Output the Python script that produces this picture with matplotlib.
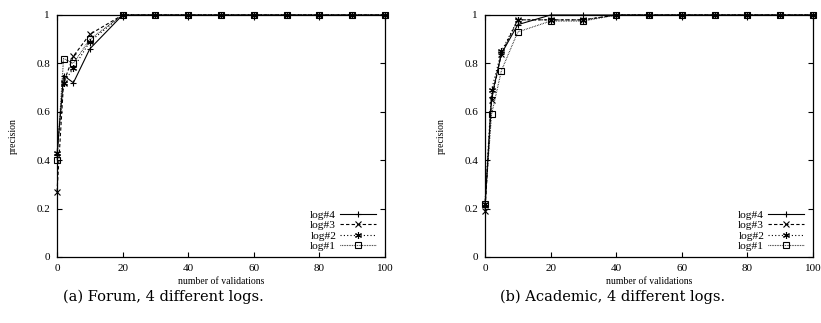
import matplotlib.pyplot as plt
from matplotlib.ticker import FuncFormatter

# data
x_vals = [0, 2, 5, 10, 20, 30, 40, 50, 60, 70, 80, 90, 100]
tail = [1.0] * 8

forum_log4 = [0.42, 0.75, 0.72, 0.86, 1.0] + tail
forum_log3 = [0.27, 0.72, 0.83, 0.92, 1.0] + tail
forum_log2 = [0.43, 0.72, 0.78, 0.89, 1.0] + tail
forum_log1 = [0.40, 0.82, 0.80, 0.90, 1.0] + tail

acad_log4 = [0.21, 0.66, 0.84, 0.96, 1.0, 1.0, 1.0] + tail[:6]
acad_log3 = [0.19, 0.65, 0.84, 0.98, 0.98, 0.98, 1.0] + tail[:6]
acad_log2 = [0.22, 0.69, 0.85, 0.98, 0.98, 0.98, 1.0] + tail[:6]
acad_log1 = [0.22, 0.59, 0.77, 0.93, 0.975, 0.975, 1.0] + tail[:6]

labels = ['log#4', 'log#3', 'log#2', 'log#1']
captions = ['(a) Forum, 4 different logs.', '(b) Academic, 4 different logs.']

serif = ['Liberation Serif', 'DejaVu Serif']
asterisk = (6, 2, 0)
styles = [
    dict(ls='-', marker='+', ms=5),
    dict(ls=(0, (3, 2)), marker='x', ms=4),
    dict(ls=(0, (1, 2)), marker=asterisk, ms=5),
    dict(ls=(0, (0.6, 0.9)), marker='s', ms=4, mfc='none'),
]

fig = plt.figure(figsize=(8.21, 3.23), dpi=100)
W, H = 821.0, 323.0
ax1 = fig.add_axes([57 / W, 1 - 257 / H, 328 / W, 242 / H])
ax2 = fig.add_axes([485 / W, 1 - 257 / H, 328 / W, 242 / H])

panels = [
    (ax1, [forum_log4, forum_log3, forum_log2, forum_log1]),
    (ax2, [acad_log4, acad_log3, acad_log2, acad_log1]),
]

def fmt(v, pos):
    return '%g' % round(v, 1)

for ax, series in panels:
    for ys, lab, st in zip(series, labels, styles):
        ax.plot(x_vals, ys, color='black', lw=0.8, mew=0.8, label=lab,
                clip_on=False, **st)
    ax.set_xlim(0, 100)
    ax.set_ylim(0, 1)
    ax.set_xticks(range(0, 101, 20))
    ax.set_yticks([0, 0.2, 0.4, 0.6, 0.8, 1.0])
    ax.yaxis.set_major_formatter(FuncFormatter(fmt))
    ax.tick_params(direction='in', length=3.5, width=0.8, top=True, right=True,
                   labelsize=8, pad=5)
    for lbl in ax.get_xticklabels() + ax.get_yticklabels():
        lbl.set_family(serif)
    for sp in ax.spines.values():
        sp.set_linewidth(0.9)
    ax.set_xlabel('number of validations', family=serif, fontsize=7, labelpad=3)
    ax.set_ylabel('precision', family=serif, fontsize=7, labelpad=13)
    leg = ax.legend(loc='lower right', frameon=False, markerfirst=False,
                    prop={'family': serif, 'size': 8.2}, handlelength=3.1,
                    handletextpad=0.35, labelspacing=0.05,
                    borderaxespad=0.0, bbox_to_anchor=(0.985, 0.005))

fig.text(163 / W, 1 - 297 / H, captions[0], ha='center', va='center',
         family='DejaVu Serif', fontsize=10.5)
fig.text(613 / W, 1 - 297 / H, captions[1], ha='center', va='center',
         family='DejaVu Serif', fontsize=10.5)

fig.savefig('out.png', dpi=100)
